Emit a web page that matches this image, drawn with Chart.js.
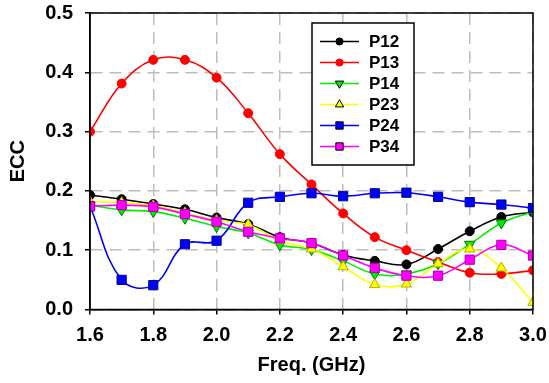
<!DOCTYPE html>
<html>
<head>
<meta charset="utf-8">
<script src="https://cdn.jsdelivr.net/npm/chart.js@4"></script>
<style>
  html, body { margin: 0; padding: 0; background: #fff; }
  #wrap { width: 549px; height: 383px; position: relative; }
</style>
</head>
<body>
<div id="wrap"><canvas id="c"></canvas></div>
<script>
// ── data ────────────────────────────────────────────────
const freq = [1.6, 1.7, 1.8, 1.9, 2.0, 2.1, 2.2, 2.3, 2.4, 2.5, 2.6, 2.7, 2.8, 2.9, 3.0];
const p12  = [0.193, 0.186, 0.178, 0.169, 0.155, 0.144, 0.122, 0.112, 0.092, 0.082, 0.076, 0.102, 0.132, 0.156, 0.164];
const p13  = [0.300, 0.381, 0.421, 0.421, 0.391, 0.331, 0.262, 0.211, 0.162, 0.122, 0.100, 0.080, 0.062, 0.060, 0.066];
const p14  = [0.176, 0.168, 0.165, 0.154, 0.140, 0.129, 0.109, 0.101, 0.082, 0.060, 0.060, 0.077, 0.110, 0.146, 0.165];
const p23  = [0.182, 0.180, 0.175, 0.163, 0.150, 0.143, 0.116, 0.102, 0.072, 0.042, 0.043, 0.077, 0.102, 0.070, 0.012];
const p24  = [0.174, 0.050, 0.041, 0.110, 0.116, 0.180, 0.190, 0.196, 0.191, 0.196, 0.197, 0.190, 0.181, 0.177, 0.171];
const p34  = [0.174, 0.176, 0.173, 0.161, 0.148, 0.131, 0.120, 0.112, 0.091, 0.070, 0.057, 0.057, 0.084, 0.109, 0.091];

const seriesNames = ["P12", "P13", "P14", "P23", "P24", "P34"];
const seriesData  = [p12, p13, p14, p23, p24, p34];

// styles per series
const STYLES = [
    { line: "#000000", fill: "#000000", edge: "#000000", shape: "circle",   r: 4.5, rot: 0   },
    { line: "#ff0000", fill: "#ff0000", edge: "#ff0000", shape: "circle",   r: 4.5, rot: 0   },
    { line: "#00ee00", fill: "#00ee00", edge: "#007700", shape: "triangle", r: 6,   rot: 180 },
    { line: "#ffff00", fill: "#ffff00", edge: "#b0b000", shape: "triangle", r: 6,   rot: 0   },
    { line: "#0000ff", fill: "#0000ff", edge: "#000088", shape: "rect",     r: 6.5, rot: 0   },
    { line: "#ff00ff", fill: "#ff00ff", edge: "#aa00aa", shape: "rect",     r: 6.5, rot: 0   },
];

const FONT = "'Liberation Sans', Arial, Helvetica, sans-serif";

const datasets = seriesNames.map((name, i) => {
    const s = STYLES[i];
    return {
        label: name,
        data: freq.map((f, k) => ({ x: f, y: seriesData[i][k] })),
        borderColor: s.line,
        borderWidth: 1.6,
        backgroundColor: s.fill,
        pointStyle: s.shape,
        pointRotation: s.rot,
        pointRadius: s.r,
        pointBackgroundColor: s.fill,
        pointBorderColor: s.edge,
        pointBorderWidth: 1,
        tension: 0.4,
        fill: false,
        order: seriesNames.length - i,
    };
});

// ── frame round the plot + legend box inside it ─────────
const framePlugin = {
    id: "frame",
    afterDatasetsDraw(chart) {
        const { ctx, chartArea: a } = chart;
        ctx.save();
        ctx.strokeStyle = "#000";
        ctx.lineWidth = 1.5;
        ctx.strokeRect(a.left, a.top, a.right - a.left, a.bottom - a.top);

        // legend
        const bx = 312, by = 23, bw = 102, bh = 142;
        ctx.fillStyle = "#fff";
        ctx.fillRect(bx, by, bw, bh);
        ctx.strokeRect(bx, by, bw, bh);
        ctx.font = "bold 17px " + FONT;
        ctx.textBaseline = "middle";
        chart.data.datasets.forEach((ds, i) => {
            const y = 41.5 + i * 21;
            ctx.strokeStyle = ds.borderColor;
            ctx.lineWidth = 1.5;
            ctx.beginPath();
            ctx.moveTo(320, y);
            ctx.lineTo(359, y);
            ctx.stroke();
            ctx.fillStyle = ds.pointBackgroundColor;
            ctx.strokeStyle = i >= 2 ? "#000" : ds.pointBorderColor;
            ctx.lineWidth = 1;
            Chart.helpers.drawPoint(ctx, {
                pointStyle: ds.pointStyle,
                rotation: ds.pointRotation,
                radius: ds.pointRadius * 0.8,
                borderWidth: 1,
            }, 339.5, y);
            ctx.fillStyle = "#000";
            ctx.fillText(ds.label, 369, y + 1);
        });
        ctx.restore();
    }
};

new Chart(document.getElementById("c"), {
    type: "line",
    data: { datasets },
    plugins: [framePlugin],
    options: {
        responsive: true,
        maintainAspectRatio: false,
        animation: false,
        layout: { padding: { top: 13, right: 16, bottom: 0, left: 0 } },
        plugins: { legend: { display: false }, tooltip: { enabled: false } },
        scales: {
            x: {
                type: "linear",
                min: 1.6, max: 3.0,
                afterFit: s => { s.height = 73.5; s.paddingLeft = 0; s.paddingRight = 0; },
                ticks: {
                    stepSize: 0.2,
                    padding: 9,
                    color: "#000",
                    font: { family: FONT, size: 20, weight: "bold" },
                    callback: v => Number(v).toFixed(1),
                },
                grid: { color: "#bdbdbd", lineWidth: 1.5, tickLength: 5, tickColor: "#000", tickWidth: 1.5 },
                border: { color: "#000", width: 1.5, dash: [12, 7] },
                title: {
                    display: true, text: "Freq. (GHz)", color: "#000",
                    font: { family: FONT, size: 20, weight: "bold" },
                    padding: { top: 0, bottom: 6 },
                },
            },
            y: {
                min: 0, max: 0.5,
                afterFit: s => { s.width = 90; s.paddingTop = 0; s.paddingBottom = 0; },
                ticks: {
                    stepSize: 0.1,
                    padding: 12,
                    color: "#000",
                    font: { family: FONT, size: 20, weight: "bold" },
                    callback: v => Number(v).toFixed(1),
                },
                grid: { color: "#bdbdbd", lineWidth: 1.5, tickLength: 5, tickColor: "#000", tickWidth: 1.5 },
                border: { color: "#000", width: 1.5, dash: [12, 7] },
                title: {
                    display: true, text: "ECC", color: "#000",
                    font: { family: FONT, size: 20, weight: "bold" },
                    padding: { top: 6, bottom: 0 },
                },
            },
        },
    },
});
</script>
</body>
</html>
